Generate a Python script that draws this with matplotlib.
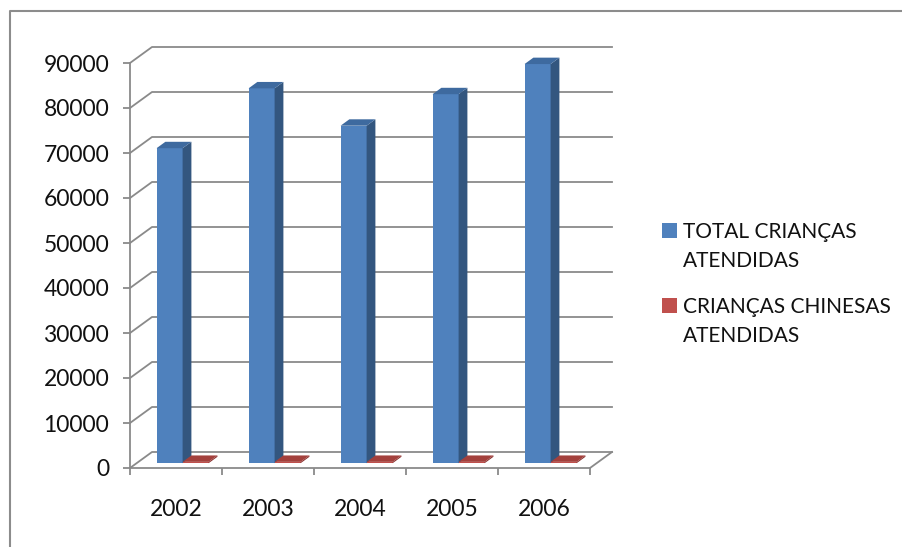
import numpy as np
import matplotlib
matplotlib.use("Agg")
import matplotlib.pyplot as plt
from matplotlib.patches import Polygon, Rectangle
from matplotlib.lines import Line2D

plt.rcParams['font.family'] = ['Lato', 'DejaVu Sans']

anos = ['2002', '2003', '2004', '2005', '2006']
total = [70000, 83300, 75000, 82000, 88700]
chinesas = [300, 300, 300, 300, 300]
serie_nomes = [['TOTAL CRIANÇAS', 'ATENDIDAS'], ['CRIANÇAS CHINESAS', 'ATENDIDAS']]
yticks = np.arange(0, 90001, 10000)

W, H = 903, 547
fig = plt.figure(figsize=(W/100, H/100), dpi=100)

# front plane of the axes in pixels
x0px, y0px, x1px, ytop = 130, 468, 620, 30
ax = fig.add_axes([x0px/W, (H-y0px)/H, (x1px-x0px)/W, (y0px-ytop)/H])
cat_px = 92.0
ypp = 45.0/10000  # px per unit
ax.set_xlim(0, (x1px-x0px)/cat_px)
ax.set_ylim(0, (y0px-ytop)/ypp)

# depth offset of back wall
dx = 22/cat_px
dy = 16/ypp
n = len(anos)
gc = '#8a8a8a'

for v in yticks:
    ax.plot([0, dx, n+dx], [v, v+dy, v+dy], color=gc, lw=1.3, zorder=1, clip_on=False)
# floor right edge
ax.plot([n, n+dx], [0, dy], color=gc, lw=1.3, zorder=1, clip_on=False)

bw = 0.283
f1, f2 = 0.3, 0.7
cores = [('#4F81BD', '#33567F', '#3E6A9F'), ('#C0504D', '#8C3331', '#A3403C')]

def bar3d(xl, v, cols):
    fr, sd, tp = cols
    xa = xl + f1*dx
    ya = f1*dy
    ddx = (f2-f1)*dx
    ddy = (f2-f1)*dy
    ax.add_patch(Polygon([(xa, ya), (xa+bw, ya), (xa+bw, ya+v), (xa, ya+v)],
                         closed=True, facecolor=fr, edgecolor='none', zorder=3))
    ax.add_patch(Polygon([(xa+bw, ya), (xa+bw+ddx, ya+ddy), (xa+bw+ddx, ya+ddy+v), (xa+bw, ya+v)],
                         closed=True, facecolor=sd, edgecolor='none', zorder=3))
    ax.add_patch(Polygon([(xa, ya+v), (xa+bw, ya+v), (xa+bw+ddx, ya+ddy+v), (xa+ddx, ya+ddy+v)],
                         closed=True, facecolor=tp, edgecolor='none', zorder=3))

for i in range(n):
    bar3d(i + 0.5 - bw, total[i], cores[0])
    bar3d(i + 0.5, chinesas[i], cores[1])

for s in ['top', 'right']:
    ax.spines[s].set_visible(False)
ax.spines['left'].set_bounds(0, 90000)
ax.spines['bottom'].set_bounds(0, n)
for s in ['left', 'bottom']:
    ax.spines[s].set_color(gc)
    ax.spines[s].set_linewidth(1.3)

ax.set_yticks(yticks)
ax.set_yticklabels([str(v) for v in yticks])
ax.tick_params(axis='y', length=5, width=1.3, color=gc, pad=10, labelsize=16.5, labelcolor='#111111')
ax.set_xticks(np.arange(n+1))
ax.set_xticklabels([])
ax.set_xticks(np.arange(n)+0.5, minor=True)
ax.set_xticklabels(anos, minor=True)
ax.tick_params(axis='x', which='major', length=5, width=1.3, color=gc)
ax.tick_params(axis='x', which='minor', length=0, pad=22, labelsize=16.5, labelcolor='#111111')
ax.set_facecolor('none')

# legend
leg_x = 662
sq = [223, 298]
base = [[238, 267], [313, 342]]
for k in range(2):
    fig.add_artist(Rectangle((leg_x/W, 1-(sq[k]+15)/H), 15/W, 15/H,
                             facecolor=cores[k][0], edgecolor='none', transform=fig.transFigure))
    for j, linha in enumerate(serie_nomes[k]):
        fig.text(683/W, 1-base[k][j]/H, linha, fontsize=15, color='#111111',
                 ha='left', va='baseline')

# outer frame
fig.add_artist(Line2D([10/W, 10/W, 1.0], [0, 1-11/H, 1-11/H], color='#8c8c8c', lw=1.5,
                      transform=fig.transFigure))

fig.savefig('out.png', dpi=100)
